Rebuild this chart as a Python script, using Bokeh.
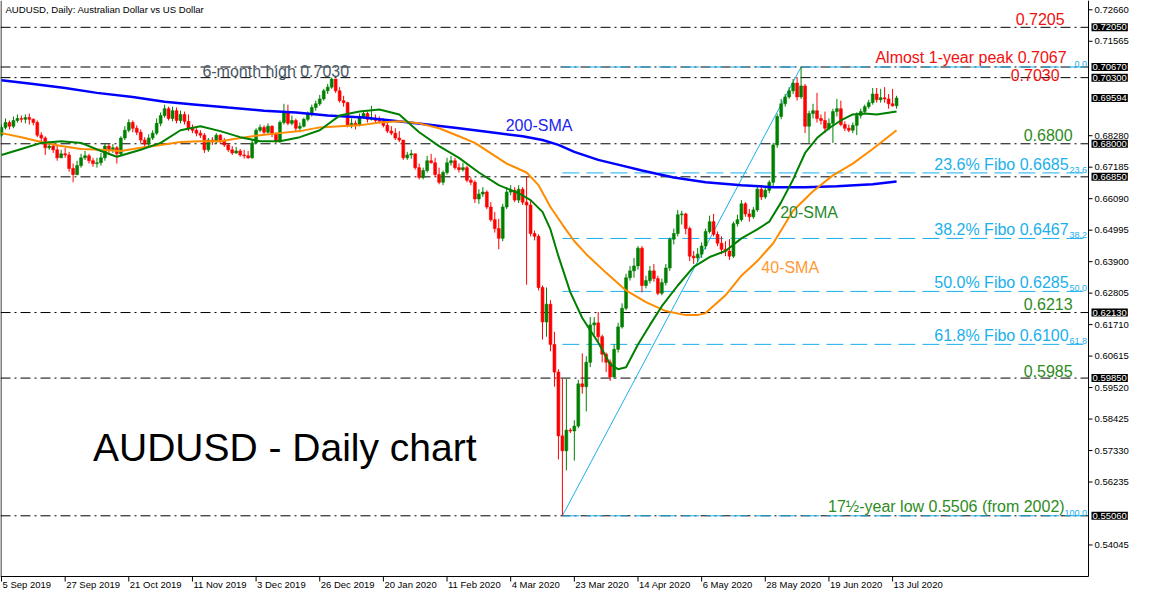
from bokeh.plotting import figure
from bokeh.models import ColumnDataSource, Label, Range1d
from bokeh.core.properties import value
from bokeh.embed import file_html
from bokeh.resources import INLINE

# ---------------- data ----------------
open_first = 0.6830
closes = [
 0.6857,0.6874,0.6861,0.6881,0.6888,0.6885,0.6891,0.6885,0.6874,0.6830,
 0.6820,0.6786,0.6792,0.6779,0.6751,0.6765,0.6761,0.6714,0.6693,0.6724,
 0.6751,0.6758,0.6741,0.6731,0.6734,0.6751,0.6792,0.6779,0.6786,0.6765,
 0.6820,0.6847,0.6874,0.6854,0.6840,0.6813,0.6799,0.6820,0.6837,0.6871,
 0.6898,0.6922,0.6888,0.6915,0.6881,0.6902,0.6878,0.6854,0.6847,0.6837,
 0.6830,0.6779,0.6813,0.6806,0.6830,0.6809,0.6796,0.6779,0.6768,0.6775,
 0.6761,0.6758,0.6751,0.6803,0.6847,0.6857,0.6840,0.6861,0.6833,0.6809,
 0.6874,0.6909,0.6871,0.6881,0.6854,0.6861,0.6885,0.6902,0.6926,0.6939,
 0.6956,0.6984,0.6997,0.7025,0.6984,0.6950,0.6943,0.6864,0.6871,0.6864,
 0.6895,0.6905,0.6885,0.6888,0.6881,0.6878,0.6864,0.6844,0.6837,0.6820,
 0.6813,0.6751,0.6761,0.6765,0.6717,0.6683,0.6707,0.6741,0.6734,0.6693,
 0.6666,0.6700,0.6734,0.6741,0.6717,0.6710,0.6717,0.6673,0.6666,0.6608,
 0.6625,0.6632,0.6580,0.6536,0.6505,0.6471,0.6580,0.6632,0.6638,0.6604,
 0.6642,0.6597,0.6587,0.6488,0.6478,0.6300,0.6180,0.6242,0.6102,0.6006,
 0.5784,0.5732,0.5804,0.5801,0.5818,0.5965,0.5955,0.6040,0.6170,0.6177,
 0.6129,0.6068,0.6040,0.5989,0.6085,0.6163,0.6228,0.6334,0.6358,0.6375,
 0.6437,0.6307,0.6324,0.6358,0.6331,0.6280,0.6317,0.6368,0.6468,0.6488,
 0.6553,0.6556,0.6505,0.6409,0.6403,0.6416,0.6444,0.6495,0.6529,0.6485,
 0.6454,0.6433,0.6427,0.6409,0.6522,0.6536,0.6591,0.6556,0.6546,0.6570,
 0.6642,0.6615,0.6638,0.6666,0.6796,0.6895,0.6939,0.6963,0.6984,0.7011,
 0.6963,0.7001,0.6861,0.6905,0.6915,0.6888,0.6881,0.6854,0.6871,0.6912,
 0.6922,0.6867,0.6854,0.6847,0.6864,0.6898,0.6912,0.6929,0.6943,0.6973,
 0.6953,0.6960,0.6956,0.6939,0.6932,0.6959]
highs = [
 0.6867,0.6888,0.6881,0.6895,0.6902,0.6898,0.6902,0.6905,0.6888,0.6881,
 0.6840,0.6826,0.6809,0.6806,0.6796,0.6779,0.6786,0.6772,0.6731,0.6741,
 0.6765,0.6775,0.6765,0.6751,0.6751,0.6768,0.6803,0.6799,0.6799,0.6792,
 0.6826,0.6861,0.6885,0.6881,0.6864,0.6850,0.6823,0.6833,0.6847,0.6888,
 0.6909,0.6936,0.6929,0.6929,0.6926,0.6915,0.6912,0.6902,0.6867,0.6854,
 0.6847,0.6837,0.6820,0.6823,0.6837,0.6833,0.6820,0.6803,0.6792,0.6789,
 0.6782,0.6779,0.6775,0.6813,0.6854,0.6867,0.6864,0.6871,0.6864,0.6840,
 0.6881,0.6939,0.6936,0.6898,0.6888,0.6874,0.6891,0.6912,0.6936,0.6950,
 0.6970,0.6991,0.7008,0.7030,0.7025,0.6997,0.6967,0.6946,0.6888,0.6881,
 0.6905,0.6915,0.6912,0.6932,0.6902,0.6895,0.6888,0.6874,0.6861,0.6854,
 0.6844,0.6813,0.6772,0.6779,0.6765,0.6731,0.6717,0.6758,0.6765,0.6751,
 0.6717,0.6707,0.6751,0.6758,0.6751,0.6731,0.6734,0.6724,0.6683,0.6673,
 0.6642,0.6649,0.6638,0.6597,0.6563,0.6539,0.6591,0.6649,0.6656,0.6649,
 0.6656,0.6649,0.6685,0.6604,0.6498,0.6485,0.6307,0.6300,0.6256,0.6146,
 0.6016,0.5982,0.5982,0.5811,0.5838,0.5979,0.6071,0.6061,0.6197,0.6197,
 0.6215,0.6136,0.6074,0.6050,0.6102,0.6177,0.6245,0.6348,0.6375,0.6403,
 0.6444,0.6444,0.6341,0.6375,0.6382,0.6341,0.6331,0.6382,0.6474,0.6505,
 0.6570,0.6567,0.6560,0.6512,0.6427,0.6437,0.6457,0.6505,0.6550,0.6556,
 0.6495,0.6478,0.6461,0.6468,0.6529,0.6553,0.6604,0.6597,0.6573,0.6580,
 0.6649,0.6656,0.6649,0.6673,0.6803,0.6905,0.6956,0.6973,0.6997,0.7025,
 0.7032,0.7067,0.7008,0.6915,0.6939,0.6977,0.6902,0.6912,0.6888,0.6922,
 0.6956,0.6950,0.6878,0.6867,0.6874,0.6909,0.6922,0.6936,0.6953,0.6994,
 0.6994,0.6991,0.6997,0.6973,0.6991,0.6967]
lows = [
 0.6823,0.6850,0.6850,0.6854,0.6874,0.6874,0.6871,0.6867,0.6864,0.6823,
 0.6806,0.6761,0.6779,0.6768,0.6741,0.6751,0.6751,0.6703,0.6666,0.6690,
 0.6717,0.6744,0.6731,0.6720,0.6717,0.6724,0.6741,0.6765,0.6768,0.6731,
 0.6758,0.6813,0.6840,0.6840,0.6830,0.6803,0.6789,0.6792,0.6813,0.6830,
 0.6861,0.6891,0.6881,0.6878,0.6871,0.6871,0.6867,0.6844,0.6837,0.6826,
 0.6820,0.6768,0.6772,0.6796,0.6799,0.6799,0.6789,0.6772,0.6761,0.6765,
 0.6755,0.6748,0.6748,0.6748,0.6799,0.6840,0.6830,0.6833,0.6823,0.6803,
 0.6803,0.6867,0.6864,0.6864,0.6844,0.6840,0.6857,0.6878,0.6895,0.6915,
 0.6932,0.6950,0.6973,0.6991,0.6977,0.6943,0.6929,0.6857,0.6854,0.6850,
 0.6861,0.6888,0.6874,0.6881,0.6871,0.6871,0.6857,0.6837,0.6830,0.6813,
 0.6806,0.6744,0.6744,0.6748,0.6710,0.6676,0.6676,0.6700,0.6731,0.6686,
 0.6659,0.6656,0.6693,0.6724,0.6710,0.6700,0.6703,0.6666,0.6656,0.6594,
 0.6591,0.6615,0.6573,0.6529,0.6491,0.6433,0.6461,0.6573,0.6621,0.6597,
 0.6594,0.6587,0.6310,0.6478,0.6464,0.6290,0.6119,0.6129,0.6078,0.5955,
 0.5702,0.5506,0.5664,0.5794,0.5698,0.5811,0.5931,0.5869,0.6023,0.6136,
 0.6109,0.6040,0.6006,0.5975,0.5982,0.6074,0.6157,0.6221,0.6324,0.6334,
 0.6362,0.6283,0.6297,0.6314,0.6320,0.6273,0.6273,0.6307,0.6358,0.6450,
 0.6478,0.6519,0.6485,0.6392,0.6382,0.6389,0.6403,0.6433,0.6488,0.6478,
 0.6444,0.6416,0.6409,0.6396,0.6403,0.6512,0.6529,0.6546,0.6529,0.6539,
 0.6563,0.6604,0.6608,0.6628,0.6649,0.6786,0.6885,0.6929,0.6956,0.6973,
 0.6950,0.6956,0.6837,0.6803,0.6888,0.6874,0.6867,0.6837,0.6847,0.6803,
 0.6895,0.6861,0.6844,0.6840,0.6837,0.6830,0.6888,0.6905,0.6922,0.6936,
 0.6943,0.6943,0.6943,0.6922,0.6929,0.6922]

sma20_bar = [0,5,10,15,20,25,29,35,40,45,50,55,60,65,70,75,80,85,90,95,
             100,105,110,115,120,125,130,133,136,138,140,143,146,150,153,155,157,160,163,166,
             170,174,178,182,186,190,193,196,199,202,205,208,211,214,217,220,225]
sma20_val = [0.6761,0.6782,0.6803,0.6809,0.6803,0.6775,0.6755,0.6779,0.6803,0.6847,
             0.6861,0.6844,0.6823,0.6809,0.6809,0.6823,0.6847,0.6898,0.6912,0.6919,
             0.6902,0.6840,0.6792,0.6751,0.6700,0.6656,0.6628,0.6604,0.6563,0.6502,
             0.6409,0.6283,0.6194,0.6109,0.6033,0.6016,0.6023,0.6102,0.6170,0.6235,
             0.6307,0.6372,0.6406,0.6427,0.6471,0.6502,0.6529,0.6597,0.6676,0.6768,
             0.6820,0.6854,0.6881,0.6902,0.6905,0.6902,0.6912]
sma40_bar = [0,5,10,15,20,25,30,35,40,45,50,55,60,65,70,75,80,85,90,95,
             100,105,110,115,119,124,127,132,135,138,141,144,147,152,157,162,167,172,175,177,
             182,186,190,194,199,204,209,214,219,225]
sma40_val = [0.6837,0.6823,0.6806,0.6792,0.6782,0.6779,0.6775,0.6786,0.6796,0.6806,
             0.6809,0.6809,0.6820,0.6830,0.6837,0.6844,0.6857,0.6861,0.6864,0.6874,
             0.6878,0.6871,0.6854,0.6826,0.6803,0.6758,0.6731,0.6700,0.6656,0.6580,
             0.6519,0.6461,0.6416,0.6351,0.6290,0.6249,0.6218,0.6204,0.6204,0.6211,
             0.6273,0.6341,0.6392,0.6454,0.6567,0.6635,0.6690,0.6731,0.6782,0.6847]
sma200_bar = [0,8,16,24,33,41,49,57,66,74,82,91,98,107,115,123,131,136,140,144,
              150,156,161,169,177,186,194,202,210,219,225]
sma200_val = [0.7021,0.7008,0.6994,0.6977,0.6963,0.6946,0.6936,0.6926,0.6915,0.6909,
              0.6898,0.6891,0.6881,0.6867,0.6854,0.6840,0.6826,0.6813,0.6796,0.6772,
              0.6744,0.6724,0.6707,0.6683,0.6666,0.6656,0.6649,0.6649,0.6652,0.6659,0.6669]

date_labels = ["5 Sep 2019", "27 Sep 2019", "21 Oct 2019", "11 Nov 2019", "3 Dec 2019",
               "26 Dec 2019", "20 Jan 2020", "11 Feb 2020", "4 Mar 2020", "23 Mar 2020",
               "14 Apr 2020", "6 May 2020", "28 May 2020", "19 Jun 2020", "13 Jul 2020"]
bars_per_label = 16

price_ticks = [0.72660, 0.71565, 0.68280, 0.67185, 0.66090, 0.64995, 0.63900, 0.62805,
               0.61710, 0.60615, 0.59520, 0.58425, 0.57330, 0.56235, 0.54045]
marked_prices = [0.72050, 0.70670, 0.70300, 0.69594, 0.68000, 0.66850, 0.62130, 0.59850, 0.55060]
level_lines = [0.7205, 0.7067, 0.7030, 0.6800, 0.6685, 0.6213, 0.5985, 0.5506]

fibo_high, fibo_low = 0.7067, 0.5506
fibo_high_bar, fibo_low_bar = 201, 141
fibo_ratios = [0.0, 23.6, 38.2, 50.0, 61.8, 100.0]
fibo_names = ["0.0", "23.6", "38.2", "50.0", "61.8", "100.0"]
fibo_texts = ["", "23.6% Fibo 0.6685", "38.2% Fibo 0.6467", "50.0% Fibo 0.6285", "61.8% Fibo 0.6100", ""]

# ---------------- layout: one frame covering the whole canvas ----------------
CANVAS_W, CANVAS_H = 1133, 590
CHART_W, CHART_H = 1088, 576          # pixel size of the price area inside it
X0, X1 = -0.25, 273.25                # bar-index span of the price area
Y0, Y1 = 0.52949, 0.72983             # price span of the price area
DX = (X1 - X0) / CHART_W              # bar units per pixel
DY = (Y1 - Y0) / CHART_H              # price units per pixel

FONT = "Liberation Sans"
GREEN, RED = "#008000", "#ff0000"
FIBO = "#1ab0ec"

p = figure(frame_width=CANVAS_W, frame_height=CANVAS_H,
           x_range=Range1d(X0, X0 + CANVAS_W * DX), y_range=Range1d(Y1 - CANVAS_H * DY, Y1),
           output_backend="svg", toolbar_location=None,
           x_axis_location=None, y_axis_location=None,
           min_border_left=0, min_border_right=0, min_border_top=0, min_border_bottom=0)
p.grid.visible = False
p.outline_line_color = None
p.background_fill_color = "white"

# ---- frame lines of the price area
p.segment(x0=[X0 + 0.5 * DX, X1, X0], x1=[X0 + 0.5 * DX, X1, X1],
          y0=[Y0, Y0, Y0], y1=[Y1, Y1, Y0], line_color="black", line_width=1)

# ---- price scale (right)
p.segment(x0=[X1] * len(price_ticks), x1=[X1 + 4 * DX] * len(price_ticks),
          y0=price_ticks, y1=price_ticks, line_color="black", line_width=1)
p.text(x=[X1 + 6 * DX] * len(price_ticks), y=price_ticks,
       text=["%.5f" % v for v in price_ticks], text_font=value(FONT),
       text_font_size=value("9.5px"), text_color="black",
       text_align="left", text_baseline="middle")

# ---- time scale (bottom)
tick_bars = [k * bars_per_label for k in range(len(date_labels))]
p.segment(x0=tick_bars, x1=tick_bars, y0=[Y0] * len(tick_bars),
          y1=[Y0 - 5 * DY] * len(tick_bars), line_color="black", line_width=1)
p.text(x=[b + 1 * DX for b in tick_bars], y=[Y0 - 2 * DY] * len(tick_bars), text=date_labels,
       text_font=value(FONT), text_font_size=value("9.5px"), text_color="black",
       text_align="left", text_baseline="top")

# ---- horizontal support / resistance levels
p.segment(x0=[X0] * len(level_lines), x1=[X1] * len(level_lines), y0=level_lines, y1=level_lines,
          line_color="black", line_width=1, line_dash="10 4 2 4")

# ---- fibonacci retracement
fibo_levels = [fibo_high - r / 100.0 * (fibo_high - fibo_low) for r in fibo_ratios]
p.segment(x0=[fibo_low_bar] * len(fibo_levels), x1=[X1] * len(fibo_levels),
          y0=fibo_levels, y1=fibo_levels, line_color=FIBO, line_width=1, line_dash="17 7")
p.line([fibo_low_bar, fibo_high_bar], [fibo_low, fibo_high], line_color=FIBO, line_width=1)

# ---- candles
n = len(closes)
opens = [open_first] + closes[:-1]
bars = list(range(n))
tops = [max(o, c) for o, c in zip(opens, closes)]
bots = [min(o, c) for o, c in zip(opens, closes)]
his = [max(h, t) for h, t in zip(highs, tops)]
los = [min(l, b) for l, b in zip(lows, bots)]
cols = [GREEN if c >= o else RED for o, c in zip(opens, closes)]
src = ColumnDataSource(dict(x=bars, top=tops, bottom=bots, high=his, low=los, color=cols))
p.segment(x0="x", x1="x", y0="high", y1="low", line_color="color", line_width=1, source=src)
p.vbar(x="x", width=0.72, top="top", bottom="bottom", fill_color="color",
       line_color="color", line_width=0.6, source=src)

# ---- moving averages
p.line(sma200_bar, sma200_val, line_color="#0000ff", line_width=2.5)
p.line(sma40_bar, sma40_val, line_color="#ff8c00", line_width=2)
p.line(sma20_bar, sma20_val, line_color="#008000", line_width=2)

# ---- texts
def txt(t, x, y, color, size, align="left", baseline="middle"):
    p.add_layout(Label(x=x, y=y, text=t, text_font=FONT, text_font_size=size,
                       text_color=color, text_align=align, text_baseline=baseline))

txt("AUDUSD, Daily:  Australian Dollar vs US Dollar", 1.0, 0.7268, "black", "9.6px")
txt("6-month high 0.7030", 50.5, 0.7052, "#4b5966", "16px")
txt("200-SMA", 126.75, 0.6864, "#2222ee", "16px")
txt("20-SMA", 195.75, 0.6560, "#1f8a2a", "16px")
txt("40-SMA", 191.0, 0.6368, "#ff9933", "16px")
txt("Almost 1-year peak 0.7067", 267.75, 0.7100, "#f01010", "16px", "right")
txt("0.7030", 266.0, 0.7038, "#f01010", "16px", "right")
txt("0.7205", 267.25, 0.7233, "#f01010", "16px", "right")
txt("0.6800", 269.25, 0.6830, "#2e8b1e", "16px", "right")
txt("0.6213", 269.25, 0.6242, "#2e8b1e", "16px", "right")
txt("0.5985", 269.25, 0.6009, "#2e8b1e", "16px", "right")
txt("17½-year low 0.5506 (from 2002)", 267.25, 0.5538, "#2e8b1e", "16px", "right")
for lv, t, nm in zip(fibo_levels, fibo_texts, fibo_names):
    if t:
        txt(t, 268.25, lv, FIBO, "16px", "right", "bottom")
    txt(nm, X1 - 1.5 * DX, lv, FIBO, "9px", "right", "bottom")
txt("AUDUSD - Daily chart", 23.0, 0.5743, "black", "39px")

# ---- highlighted prices on the price scale
for mp in marked_prices:
    p.add_layout(Label(x=X1 + 3 * DX, y=mp, text="%.5f" % mp, text_font=FONT,
                       text_font_size="9.5px", text_color="white", text_align="left",
                       text_baseline="middle", background_fill_color="black", padding=1))

open("out.html", "w").write(file_html(p, INLINE))
